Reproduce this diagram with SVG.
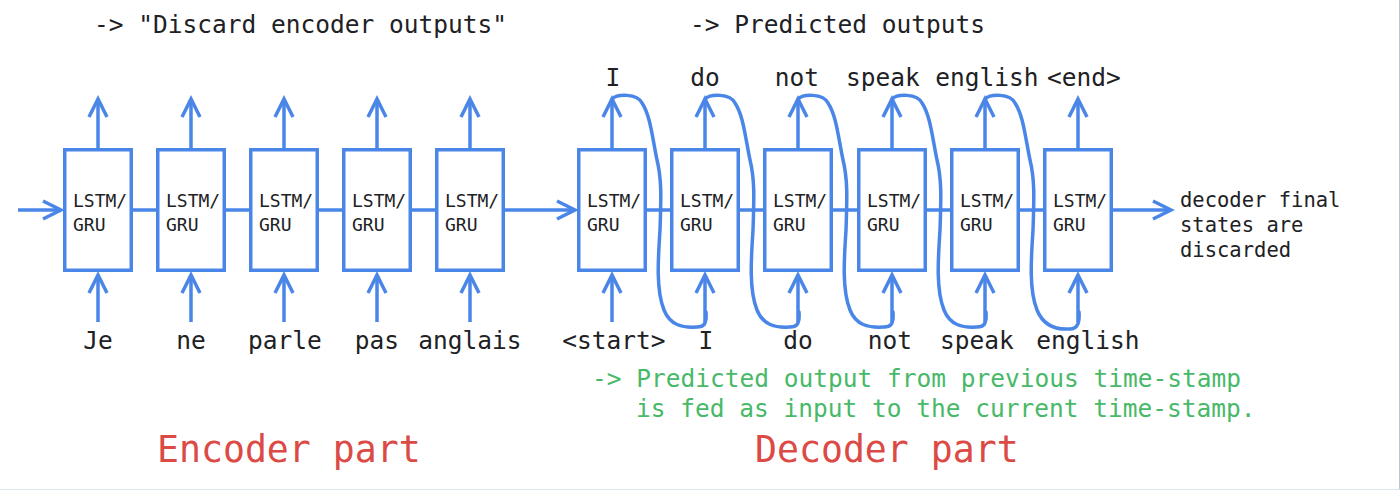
<svg xmlns="http://www.w3.org/2000/svg" width="1400" height="490" viewBox="0 0 1400 490">
<defs>
<style>
.box{fill:#ffffff;stroke:#4a86e8;stroke-width:3.5}
.cell{font-family:"DejaVu Sans Mono","Liberation Mono",monospace;font-size:18px;fill:#202124}
.lbl{font-family:"DejaVu Sans Mono","Liberation Mono",monospace;font-size:24.5px;fill:#202124;text-anchor:middle}
.note{font-family:"DejaVu Sans Mono","Liberation Mono",monospace;font-size:24.5px;fill:#202124}
.green{font-family:"DejaVu Sans Mono","Liberation Mono",monospace;font-size:24.5px;fill:#47b968}
.red{font-family:"DejaVu Sans Mono","Liberation Mono",monospace;font-size:36.5px;fill:#db4a44}
.fin{font-family:"DejaVu Sans Mono","Liberation Mono",monospace;font-size:20.5px;fill:#202124}
.ln{stroke:#4a86e8;stroke-width:3.5;fill:none}
.arr{stroke:#4a86e8;stroke-width:3.5;fill:none;marker-end:url(#chev)}
.loop{stroke:#4a86e8;stroke-width:3.5;fill:none;stroke-linecap:round;stroke-linejoin:round}
</style>
<marker id="chev" viewBox="0 0 20 20" refX="19" refY="10" markerWidth="20" markerHeight="20" markerUnits="userSpaceOnUse" orient="auto" overflow="visible">
<path d="M1,1 L19,10 L1,19" fill="none" stroke="#4a86e8" stroke-width="3.5"/>
</marker>
</defs>
<rect x="0" y="0" width="1400" height="490" fill="#ffffff"/>
<line x1="1399.5" y1="0" x2="1399.5" y2="490" stroke="#b9c7d0" stroke-width="1"/>
<line x1="0" y1="489.5" x2="1400" y2="489.5" stroke="#dce5ea" stroke-width="1"/>

<g id="connectors">
<line class="arr" x1="18" y1="210" x2="61" y2="210"/>
<line class="ln" x1="133" y1="210" x2="156" y2="210"/>
<line class="ln" x1="226" y1="210" x2="249" y2="210"/>
<line class="ln" x1="319" y1="210" x2="342" y2="210"/>
<line class="ln" x1="412" y1="210" x2="435" y2="210"/>
<line class="arr" x1="505" y1="210" x2="575" y2="210"/>
<line class="ln" x1="647" y1="210" x2="670" y2="210"/>
<line class="ln" x1="740" y1="210" x2="763" y2="210"/>
<line class="ln" x1="833" y1="210" x2="857" y2="210"/>
<line class="ln" x1="927" y1="210" x2="950" y2="210"/>
<line class="ln" x1="1020" y1="210" x2="1043" y2="210"/>
<line class="arr" x1="1113" y1="210" x2="1171" y2="210"/>
<line class="arr" x1="98" y1="148" x2="98" y2="99"/>
<line class="arr" x1="191" y1="148" x2="191" y2="99"/>
<line class="arr" x1="284" y1="148" x2="284" y2="99"/>
<line class="arr" x1="377" y1="148" x2="377" y2="99"/>
<line class="arr" x1="470" y1="148" x2="470" y2="99"/>
<line class="arr" x1="612" y1="148" x2="612" y2="99"/>
<line class="arr" x1="705" y1="148" x2="705" y2="99"/>
<line class="arr" x1="798" y1="148" x2="798" y2="99"/>
<line class="arr" x1="892" y1="148" x2="892" y2="99"/>
<line class="arr" x1="985" y1="148" x2="985" y2="99"/>
<line class="arr" x1="1078" y1="148" x2="1078" y2="99"/>
<line class="arr" x1="98" y1="322" x2="98" y2="275"/>
<line class="arr" x1="191" y1="322" x2="191" y2="275"/>
<line class="arr" x1="284" y1="322" x2="284" y2="275"/>
<line class="arr" x1="377" y1="322" x2="377" y2="275"/>
<line class="arr" x1="470" y1="322" x2="470" y2="275"/>
<line class="arr" x1="612" y1="322" x2="612" y2="275"/>
<line class="arr" x1="705" y1="322" x2="705" y2="275"/>
<line class="arr" x1="798" y1="322" x2="798" y2="275"/>
<line class="arr" x1="892" y1="322" x2="892" y2="275"/>
<line class="arr" x1="985" y1="322" x2="985" y2="275"/>
<line class="arr" x1="1078" y1="322" x2="1078" y2="275"/>
<path class="loop" d="M612,99 C617,94 637,93 642,103 C650,115 652,135 657,160 C662,180 661,200 660,230 C658,260 656,290 664,310 C670,325 682,328 697,327 C703,327 707,325 706,312"/>
<path class="loop" d="M705,99 C710,94 730,93 735,103 C743,115 745,135 750,160 C755,180 754,200 753,230 C751,260 749,290 757,310 C763,325 775,328 790,327 C796,327 800,325 799,312"/>
<path class="loop" d="M798,99 C803,94 823,93 828,103 C836,115 838,135 843,160 C848,180 847,200 846,230 C844,260 842,290 850,310 C856,325 868,328 884,327 C890,327 894,325 893,312"/>
<path class="loop" d="M892,99 C897,94 917,93 922,103 C930,115 932,135 937,160 C942,180 941,200 940,230 C938,260 936,290 944,310 C950,325 962,328 977,327 C983,327 987,325 986,312"/>
<path class="loop" d="M985,99 C990,94 1010,93 1015,103 C1023,115 1025,135 1030,160 C1035,180 1034,200 1033,230 C1031,260 1029,290 1037,310 C1043,325 1055,330 1070,329 C1076,329 1080,325 1079,312"/>
</g>

<g id="enc1"><rect class="box" x="64.75" y="149.75" width="66.5" height="120.5"/><text class="cell" x="73" y="207">LSTM/</text><text class="cell" x="73" y="231">GRU</text><text class="lbl" x="98" y="349">Je</text></g>
<g id="enc2"><rect class="box" x="157.75" y="149.75" width="66.5" height="120.5"/><text class="cell" x="166" y="207">LSTM/</text><text class="cell" x="166" y="231">GRU</text><text class="lbl" x="191" y="349">ne</text></g>
<g id="enc3"><rect class="box" x="250.75" y="149.75" width="66.5" height="120.5"/><text class="cell" x="259" y="207">LSTM/</text><text class="cell" x="259" y="231">GRU</text><text class="lbl" x="285" y="349">parle</text></g>
<g id="enc4"><rect class="box" x="343.75" y="149.75" width="66.5" height="120.5"/><text class="cell" x="352" y="207">LSTM/</text><text class="cell" x="352" y="231">GRU</text><text class="lbl" x="377" y="349">pas</text></g>
<g id="enc5"><rect class="box" x="436.75" y="149.75" width="66.5" height="120.5"/><text class="cell" x="445" y="207">LSTM/</text><text class="cell" x="445" y="231">GRU</text><text class="lbl" x="470" y="349">anglais</text></g>

<g id="dec1"><rect class="box" x="578.75" y="149.75" width="66.5" height="120.5"/><text class="cell" x="587" y="207">LSTM/</text><text class="cell" x="587" y="231">GRU</text><text class="lbl" x="614" y="349">&lt;start&gt;</text><text class="lbl" x="613" y="86">I</text></g>
<g id="dec2"><rect class="box" x="671.75" y="149.75" width="66.5" height="120.5"/><text class="cell" x="680" y="207">LSTM/</text><text class="cell" x="680" y="231">GRU</text><text class="lbl" x="706" y="349">I</text><text class="lbl" x="705" y="86">do</text></g>
<g id="dec3"><rect class="box" x="764.75" y="149.75" width="66.5" height="120.5"/><text class="cell" x="773" y="207">LSTM/</text><text class="cell" x="773" y="231">GRU</text><text class="lbl" x="798" y="349">do</text><text class="lbl" x="797" y="86">not</text></g>
<g id="dec4"><rect class="box" x="858.75" y="149.75" width="66.5" height="120.5"/><text class="cell" x="867" y="207">LSTM/</text><text class="cell" x="867" y="231">GRU</text><text class="lbl" x="890" y="349">not</text><text class="lbl" x="883" y="86">speak</text></g>
<g id="dec5"><rect class="box" x="951.75" y="149.75" width="66.5" height="120.5"/><text class="cell" x="960" y="207">LSTM/</text><text class="cell" x="960" y="231">GRU</text><text class="lbl" x="977" y="349">speak</text><text class="lbl" x="987" y="86">english</text></g>
<g id="dec6"><rect class="box" x="1044.75" y="149.75" width="66.5" height="120.5"/><text class="cell" x="1053" y="207">LSTM/</text><text class="cell" x="1053" y="231">GRU</text><text class="lbl" x="1088" y="349">english</text><text class="lbl" x="1084" y="86">&lt;end&gt;</text></g>

<g id="notes">
<text class="note" x="94" y="33">-&gt; "Discard encoder outputs"</text>
<text class="note" x="690" y="33">-&gt; Predicted outputs</text>
<text class="fin" x="1180" y="207">decoder final</text>
<text class="fin" x="1180" y="232">states are</text>
<text class="fin" x="1180" y="257">discarded</text>
<text class="green" x="592" y="387">-&gt; Predicted output from previous time-stamp</text>
<text class="green" x="636" y="417">is fed as input to the current time-stamp.</text>
<text class="red" x="157" y="462">Encoder part</text>
<text class="red" x="755" y="462">Decoder part</text>
</g>
</svg>
